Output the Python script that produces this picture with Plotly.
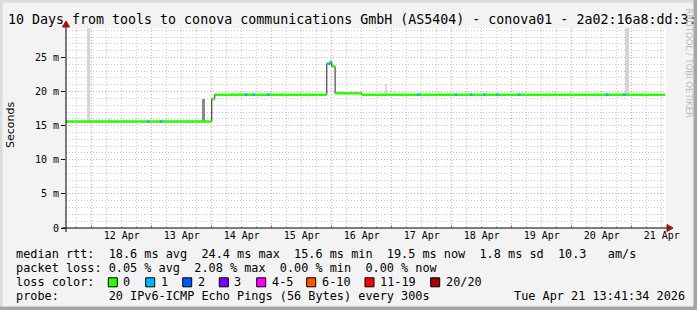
import plotly.graph_objects as go
from datetime import datetime, timedelta

# ---------------- data ----------------
x_start = "2026-04-11 13:41:34"
x_end = "2026-04-21 13:41:34"
y_top_ms = 29.33

# median rtt step series (change points), value holds until next time
median_times = ["2026-04-11 13:40", "2026-04-14 00:00", "2026-04-14 01:10",
                "2026-04-15 22:00", "2026-04-15 23:20", "2026-04-16 00:00",
                "2026-04-16 01:20", "2026-04-16 12:00", "2026-04-21 13:20"]
median_ms = [15.6, 18.9, 19.55, 24.1, 24.4, 23.7, 19.75, 19.55, 19.55]
median_loss = [0, 0, 0, 1, 0, 0, 0, 0]

# short intervals with 1 lost ping
loss_times = ["2026-04-12 22:15", "2026-04-13 03:15", "2026-04-14 13:15",
              "2026-04-14 16:20", "2026-04-14 22:05", "2026-04-17 10:05",
              "2026-04-18 01:15", "2026-04-18 07:15", "2026-04-18 12:30",
              "2026-04-18 17:40", "2026-04-19 02:30", "2026-04-20 13:40",
              "2026-04-20 20:30"]
loss_ms = [15.6, 15.6, 19.55, 19.55, 19.55, 19.55, 19.55, 19.55, 19.55,
           19.55, 19.55, 19.55, 19.55]
loss_count = [1] * 13

# smoke (spread of individual pings)
smoke_times = ["2026-04-11 22:41", "2026-04-13 20:41", "2026-04-20 22:05",
               "2026-04-16 21:41", "2026-04-12 02:29", "2026-04-12 07:17",
               "2026-04-12 13:17", "2026-04-13 11:17", "2026-04-13 14:41",
               "2026-04-14 08:05", "2026-04-14 11:17", "2026-04-14 23:41",
               "2026-04-15 11:17", "2026-04-16 05:17", "2026-04-17 01:17",
               "2026-04-17 11:17", "2026-04-17 19:17", "2026-04-19 17:17",
               "2026-04-19 23:17", "2026-04-20 18:05"]
smoke_low = [15.6, 15.6, 19.55, 19.6, 15.6, 15.6, 15.6, 15.6, 15.6,
             19.55, 19.55, 19.55, 19.55, 19.75, 19.55, 19.55, 19.55, 19.55,
             19.55, 19.55]
smoke_high = [29.3, 18.9, 29.3, 21.1, 16.0, 16.1, 15.9, 16.2, 16.0,
              20.1, 20.0, 19.9, 20.0, 20.1, 20.0, 19.9, 19.9, 19.9,
              19.9, 20.1]

y_tick_vals = [0, 5, 10, 15, 20, 25]
y_tick_text = ["0", "5 m", "10 m", "15 m", "20 m", "25 m"]
day_label_times = ["2026-04-%02d 12:00" % d for d in range(12, 22)]
day_labels = ["%d Apr" % d for d in range(12, 22)]

loss_labels = ["0", "1", "2", "3", "4-5", "6-10", "11-19", "20/20"]

# ---------------- styles ----------------
loss_colors = ["#26ff00", "#00b8ff", "#0059ff", "#7e00ff", "#ff00ff",
               "#ff5500", "#ff0000", "#a10000"]
smoke_colors = ["#d4d4d4", "#8a8a8a", "#d4d4d4", "#d9d9d9"] + ["#e2e2e2"] * 16
smoke_width_min = [72, 72, 96, 48] + [30] * 9 + [240] + [30] * 6
loss_seg_min = 60

W, H = 697, 310
PL, PR, PT, PB = 66, 666, 28, 228
MONO = "DejaVu Sans Mono"
SANS = "DejaVu Sans"


def px(x):
    return (x - PL) / (PR - PL)


def py(y):
    return (PB - y) / (PB - PT)


def dt(s):
    return datetime.strptime(s, "%Y-%m-%d %H:%M")


fig = go.Figure()

# smoke bars (main x axis, drawn below)
fig.add_trace(go.Bar(
    x=smoke_times,
    y=[h - l for h, l in zip(smoke_high, smoke_low)],
    base=smoke_low,
    width=[w * 60000 for w in smoke_width_min],
    marker=dict(color=smoke_colors, line=dict(width=0)),
    hoverinfo="skip",
))

# thin dark median line (shows the vertical transitions)
fig.add_trace(go.Scatter(
    x=median_times, y=median_ms, mode="lines", line_shape="hv",
    line=dict(color="#202020", width=1), hoverinfo="skip", xaxis="x2",
))

# coloured horizontal median segments by loss
for lvl in sorted(set(median_loss)):
    xs, ys = [], []
    for i, l in enumerate(median_loss):
        if l == lvl:
            xs += [median_times[i], median_times[i + 1], None]
            ys += [median_ms[i], median_ms[i], None]
    fig.add_trace(go.Scatter(x=xs, y=ys, mode="lines", xaxis="x2",
                             line=dict(color=loss_colors[lvl], width=2.5),
                             hoverinfo="skip"))

xs, ys = [], []
for t, v in zip(loss_times, loss_ms):
    t0 = dt(t)
    xs += [t0, t0 + timedelta(minutes=loss_seg_min), None]
    ys += [v, v, None]
fig.add_trace(go.Scatter(x=xs, y=ys, mode="lines", xaxis="x2",
                         line=dict(color=loss_colors[loss_count[0]], width=2.5),
                         hoverinfo="skip"))

# ---------------- layout ----------------
grid_red = "#eba2a2"
grid_grey = "#c6c6c6"
fig.update_layout(
    width=W, height=H,
    margin=dict(l=PL, r=W - PR, t=PT, b=H - PB, pad=0),
    paper_bgcolor="#f3f3f3", plot_bgcolor="white",
    showlegend=False, barmode="overlay", bargap=0,
    xaxis=dict(type="date", range=[x_start, x_end], tickvals=day_label_times,
               ticktext=day_labels, showgrid=False, zeroline=False, ticks="",
               showline=False, tickfont=dict(family=MONO, size=10, color="black"),
               fixedrange=True, layer="below traces"),
    xaxis2=dict(type="date", overlaying="x", matches="x", side="bottom",
                tick0="2026-04-12 00:00", dtick=86400000,
                showticklabels=False, showgrid=True, gridcolor=grid_red,
                griddash="1px,2px", gridwidth=1, ticks="inside", ticklen=3,
                tickcolor="#e07070", zeroline=False, showline=False,
                layer="below traces",
                minor=dict(tick0="2026-04-12 00:00", dtick=21600000,
                           showgrid=True, gridcolor=grid_grey,
                           griddash="1px,2px", ticks="inside", ticklen=2,
                           tickcolor="#bbbbbb")),
    yaxis=dict(range=[0, y_top_ms], tickvals=y_tick_vals, ticktext=y_tick_text,
               showgrid=True, gridcolor=grid_red, griddash="1px,2px",
               zeroline=False, ticks="outside", ticklen=4, tickcolor="black",
               showline=False, tickfont=dict(family=MONO, size=10, color="black"),
               minor=dict(dtick=1, showgrid=True, gridcolor=grid_grey,
                          griddash="1px,2px"),
               fixedrange=True),
)

shapes = []
# frame around the image
shapes.append(dict(type="rect", xref="paper", yref="paper", x0=px(0), x1=px(2.5),
                   y0=py(H), y1=py(0), fillcolor="#dcdcdc", line_width=0, layer="below"))
shapes.append(dict(type="rect", xref="paper", yref="paper", x0=px(0), x1=px(W),
                   y0=py(2.5), y1=py(0), fillcolor="#dcdcdc", line_width=0, layer="below"))
shapes.append(dict(type="rect", xref="paper", yref="paper", x0=px(W - 3.5), x1=px(W),
                   y0=py(H), y1=py(0), fillcolor="#a6a6a6", line_width=0, layer="below"))
shapes.append(dict(type="rect", xref="paper", yref="paper", x0=px(0), x1=px(W),
                   y0=py(H), y1=py(H - 3.5), fillcolor="#a6a6a6", line_width=0, layer="below"))
# axes with arrows
shapes.append(dict(type="line", xref="paper", yref="paper", x0=px(62), x1=px(668),
                   y0=0, y1=0, line=dict(color="black", width=1)))
shapes.append(dict(type="line", xref="paper", yref="paper", x0=0, x1=0,
                   y0=py(232), y1=py(25), line=dict(color="black", width=1)))
shapes.append(dict(type="path", xref="paper", yref="paper",
                   path="M %f %f L %f %f L %f %f Z" % (px(667), py(224.5), px(673), py(228), px(667), py(231.5)),
                   fillcolor="#a01010", line=dict(color="#a01010", width=1)))
shapes.append(dict(type="path", xref="paper", yref="paper",
                   path="M %f %f L %f %f L %f %f Z" % (px(62.5), py(27), px(66), py(21), px(69.5), py(27)),
                   fillcolor="#a01010", line=dict(color="#a01010", width=1)))

# loss colour boxes
box_x = [108.3, 145.7, 182.7, 219.3, 256.7, 306.7, 365.0, 430.7]
row_y = [254.3, 268.3, 282.3, 296.2]
annotations = []
for bx, lab, col in zip(box_x, loss_labels, loss_colors):
    shapes.append(dict(type="rect", xref="paper", yref="paper",
                       x0=px(bx), x1=px(bx + 9), y0=py(row_y[2] + 4.5), y1=py(row_y[2] - 4.5),
                       fillcolor=col, line=dict(color="black", width=1)))
    annotations.append(dict(x=px(bx + 15), y=py(row_y[2]), text=lab))


def txt(x, y, s, **kw):
    d = dict(x=px(x), y=py(y), text=s)
    d.update(kw)
    annotations.append(d)


txt(8, 19, "10 Days from tools to conova communications GmbH (AS5404) - conova01 - 2a02:16a8:dd:3:",
    font=dict(family=MONO, size=13.3, color="black"))
txt(16, row_y[0], "median rtt:  18.6 ms avg  24.4 ms max  15.6 ms min  19.5 ms now  1.8 ms sd  10.3   am/s")
txt(16, row_y[1], "packet loss: 0.05 % avg  2.08 % max  0.00 % min  0.00 % now")
txt(16, row_y[2], "loss color:")
txt(16, row_y[3], "probe:       20 IPv6-ICMP Echo Pings (56 Bytes) every 300s")
txt(514, row_y[3], "Tue Apr 21 13:41:34 2026")

for a in annotations:
    a.setdefault("font", dict(family=MONO, size=11.85, color="black"))
    a.update(xref="paper", yref="paper", xanchor="left", yanchor="middle",
             showarrow=False, borderpad=0, borderwidth=0)

annotations.append(dict(x=px(10), y=py(125), xref="paper", yref="paper", text="Seconds",
                        textangle=-90, showarrow=False, xanchor="center", yanchor="middle",
                        font=dict(family=SANS, size=11, color="black")))
annotations.append(dict(x=px(688.5), y=py(63), xref="paper", yref="paper",
                        text="RRDTOOL / TOBI OETIKER", textangle=90, showarrow=False,
                        xanchor="center", yanchor="middle",
                        font=dict(family=SANS, size=8.5, color="#bcbcbc")))

fig.update_layout(shapes=shapes, annotations=annotations)
fig.write_html("out.html")
